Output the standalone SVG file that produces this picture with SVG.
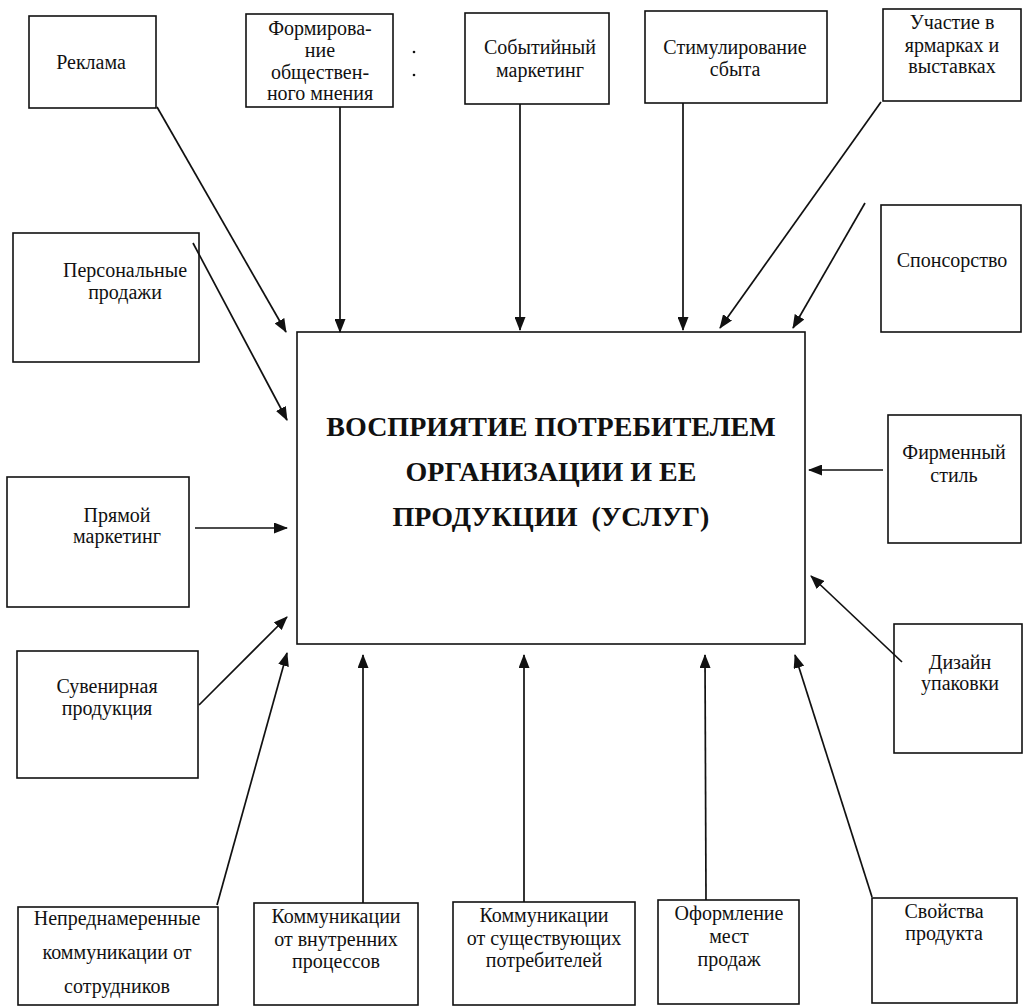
<svg xmlns="http://www.w3.org/2000/svg" width="1025" height="1007" viewBox="0 0 1025 1007" font-family="Liberation Serif, serif">
<style>
.box{fill:none;stroke:#111;stroke-width:1.6}
.t{font-size:20px;fill:#111;text-anchor:middle}
.c{font-size:28px;font-weight:bold;fill:#111;text-anchor:middle}
.ln{stroke:#111;stroke-width:1.7;fill:none;marker-end:url(#ah)}
</style>
<defs>
<marker id="ah" markerUnits="userSpaceOnUse" markerWidth="14" markerHeight="11" refX="13" refY="5.5" orient="auto">
<path d="M0,0 L14,5.5 L0,11 z" fill="#111"/>
</marker>
</defs>
<rect width="1025" height="1007" fill="#fff"/>

<g id="center">
<rect class="box" x="297" y="332" width="508" height="312"/>
<text class="c" x="551" y="436">ВОСПРИЯТИЕ ПОТРЕБИТЕЛЕМ</text>
<text class="c" x="551" y="481">ОРГАНИЗАЦИИ И ЕЕ</text>
<text class="c" x="551" y="526" xml:space="preserve">ПРОДУКЦИИ  (УСЛУГ)</text>
</g>

<g id="reklama">
<rect class="box" x="29" y="16" width="127" height="92"/>
<text class="t" x="91" y="69">Реклама</text>
</g>
<g id="formirovanie">
<rect class="box" x="246" y="14" width="147" height="93"/>
<text class="t" x="320" y="35">Формирова-</text>
<text class="t" x="320" y="57">ние</text>
<text class="t" x="320" y="79">обществен-</text>
<text class="t" x="320" y="100">ного мнения</text>
</g>
<g id="dots">
<circle cx="414" cy="52" r="1.3" fill="#111"/>
<circle cx="414" cy="75" r="1.3" fill="#111"/>
</g>
<g id="sobytiyny">
<rect class="box" x="465" y="13" width="144" height="91"/>
<text class="t" x="540" y="54">Событийный</text>
<text class="t" x="540" y="77">маркетинг</text>
</g>
<g id="stimulirovanie">
<rect class="box" x="645" y="11" width="182" height="92"/>
<text class="t" x="735" y="54">Стимулирование</text>
<text class="t" x="735" y="76">сбыта</text>
</g>
<g id="uchastie">
<rect class="box" x="883" y="9" width="138" height="92"/>
<text class="t" x="952" y="29">Участие в</text>
<text class="t" x="952" y="52">ярмарках и</text>
<text class="t" x="952" y="73">выставках</text>
</g>
<g id="sponsorstvo">
<rect class="box" x="881" y="205" width="140" height="127"/>
<text class="t" x="952" y="267">Спонсорство</text>
</g>
<g id="personalnye">
<rect class="box" x="13" y="233" width="186" height="129"/>
<text class="t" x="125" y="277">Персональные</text>
<text class="t" x="125" y="299">продажи</text>
</g>
<g id="pryamoy">
<rect class="box" x="7" y="477" width="182" height="130"/>
<text class="t" x="117" y="522">Прямой</text>
<text class="t" x="117" y="543">маркетинг</text>
</g>
<g id="suvenirnaya">
<rect class="box" x="17" y="651" width="181" height="127"/>
<text class="t" x="107" y="693">Сувенирная</text>
<text class="t" x="107" y="715">продукция</text>
</g>
<g id="neprednamerennye">
<rect class="box" x="18" y="907" width="200" height="98"/>
<text class="t" x="117" y="925">Непреднамеренные</text>
<text class="t" x="117" y="959">коммуникации от</text>
<text class="t" x="117" y="993">сотрудников</text>
</g>
<g id="vnutrennie">
<rect class="box" x="254" y="903" width="164" height="102"/>
<text class="t" x="336" y="923">Коммуникации</text>
<text class="t" x="336" y="946">от внутренних</text>
<text class="t" x="336" y="968">процессов</text>
</g>
<g id="sushchestvuyushchie">
<rect class="box" x="453" y="902" width="182" height="103"/>
<text class="t" x="544" y="922">Коммуникации</text>
<text class="t" x="544" y="945">от существующих</text>
<text class="t" x="544" y="967">потребителей</text>
</g>
<g id="oformlenie">
<rect class="box" x="658" y="900" width="141" height="104"/>
<text class="t" x="729" y="920">Оформление</text>
<text class="t" x="729" y="943">мест</text>
<text class="t" x="729" y="966">продаж</text>
</g>
<g id="svoystva">
<rect class="box" x="872" y="898" width="145" height="105"/>
<text class="t" x="944" y="918">Свойства</text>
<text class="t" x="944" y="940">продукта</text>
</g>
<g id="firmenny">
<rect class="box" x="888" y="415" width="133" height="128"/>
<text class="t" x="954" y="459">Фирменный</text>
<text class="t" x="954" y="482">стиль</text>
</g>
<g id="dizain">
<rect class="box" x="894" y="624" width="128" height="129"/>
<text class="t" x="960" y="669">Дизайн</text>
<text class="t" x="960" y="690">упаковки</text>
</g>

<g id="connectors">
<line class="ln" x1="157" y1="107" x2="286" y2="332"/>
<line class="ln" x1="340" y1="107" x2="340" y2="332"/>
<line class="ln" x1="520" y1="104" x2="520" y2="330"/>
<line class="ln" x1="683" y1="103" x2="683" y2="330"/>
<line class="ln" x1="881" y1="102" x2="720" y2="328"/>
<line class="ln" x1="865" y1="203" x2="793" y2="328"/>
<line class="ln" x1="193" y1="243" x2="287" y2="420"/>
<line class="ln" x1="195" y1="528" x2="287" y2="528"/>
<line class="ln" x1="199" y1="705" x2="287" y2="617"/>
<line class="ln" x1="217" y1="905" x2="287" y2="653"/>
<line class="ln" x1="363" y1="903" x2="363" y2="655"/>
<line class="ln" x1="524" y1="902" x2="524" y2="655"/>
<line class="ln" x1="706" y1="900" x2="705" y2="655"/>
<line class="ln" x1="872" y1="897" x2="795" y2="655"/>
<line class="ln" x1="883" y1="470" x2="809" y2="470"/>
<line class="ln" x1="902" y1="662" x2="811" y2="576"/>
</g>
</svg>
